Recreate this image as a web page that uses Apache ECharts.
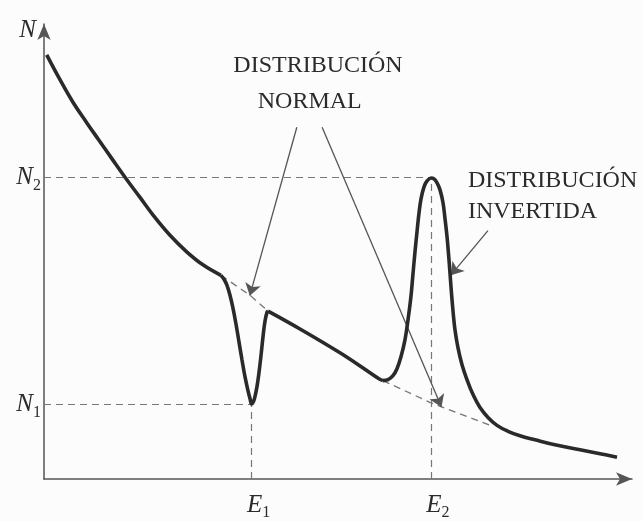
<!DOCTYPE html>
<html><head><meta charset="utf-8">
<script src="https://cdn.jsdelivr.net/npm/echarts@6/dist/echarts.min.js"></script>
<style>html,body{margin:0;padding:0;background:#fcfcfc}#c{width:642px;height:521px}</style>
</head><body><div id="c"></div>
<script>
// Measured population curve N(E), split at its kinks
const decay = [[0.46,93.23],[2.72,87.77],[4.98,82.69],[7.26,78.32],[9.23,74.67],[11.51,70.46],[13.78,66.31],[16.33,61.88],[18.59,57.93],[21.43,53.56],[24.27,49.93],[27.09,47.01],[30.10,44.76]];
const dip = [[30.10,44.76],[30.61,43.89],[31.12,42.58],[31.63,40.39],[32.14,37.55],[32.65,34.06],[33.16,30.13],[33.67,26.20],[34.18,22.49],[34.69,19.43],[35.03,17.69],[35.32,16.48],[35.63,17.03],[35.88,18.12],[36.22,20.31],[36.56,23.36],[36.90,27.07],[37.24,31.22],[37.59,34.72],[37.93,36.68],[38.10,36.90]];
const slope = [[38.10,36.90],[43.54,32.97],[50.34,27.73],[55.44,23.36],[56.97,22.05],[57.65,21.62]];
const peak = [[57.65,21.62],[58.50,21.83],[59.35,22.71],[60.03,24.24],[60.71,26.86],[61.39,30.57],[61.90,34.93],[62.41,40.17],[62.76,45.20],[63.10,50.00],[63.44,54.37],[63.78,58.52],[64.12,61.57],[64.63,64.19],[65.14,65.50],[65.82,66.16],[66.33,65.94],[66.84,65.07],[67.35,63.54],[67.86,60.70],[68.20,57.21],[68.54,53.28],[68.79,49.56],[69.05,45.20],[69.30,40.83],[69.56,36.90],[69.90,32.75],[70.41,28.82],[71.09,25.11],[71.94,21.83],[72.96,18.56],[74.15,15.72],[75.51,13.54],[77.04,11.79],[78.91,10.48],[80.95,9.50],[83.50,8.62],[86.90,7.53],[91.16,6.44],[94.56,5.57],[97.45,4.80]];
// Normal (undisturbed) distribution, dashed
const normalA = [[30.10,44.76],[35.03,40.39],[38.10,36.90]];
const normalB = [[57.65,21.62],[65.70,16.80],[75.90,11.80]];
// Marked levels
const E1 = 35.3, E2 = 65.8, N1 = 16.4, N2 = 66.3;
const xTickValues = [E1, E2];
const xTickMain = ['E', 'E'];
const xTickSub = ['1', '2'];
const yTickValues = [N1, N2];
const yTickMain = ['N', 'N'];
const yTickSub = ['1', '2'];

const SERIF = 'Liberation Serif';
const INK = '#2b2b2b';
const rich = {
  i: {fontFamily: SERIF, fontStyle: 'italic', fontSize: 25, color: INK, lineHeight: 32, verticalAlign: 'middle'},
  s: {fontFamily: SERIF, fontSize: 16, color: INK, lineHeight: 16, verticalAlign: 'bottom'}
};
const curveStyle = {color: '#2a2a2a', width: 3.6};
function curve(data) {
  return {type: 'line', data: data, smooth: 0.4, showSymbol: false, silent: true, lineStyle: curveStyle, z: 5};
}
function dashed(data) {
  return {type: 'line', data: data, smooth: false, showSymbol: false, silent: true,
    lineStyle: {color: '#777', width: 1.3, type: [7, 5]}, z: 3};
}
const guideStyle = {color: '#777', width: 1.2, type: [7, 5]};
const arrowStyle = {color: '#555', width: 1.3, type: 'solid'};
const textLabel = (txt, align) => ({
  show: true, formatter: txt, position: [0, 0], align: align, verticalAlign: 'middle',
  fontFamily: SERIF, fontSize: 24, color: INK
});

const chart = echarts.init(document.getElementById('c'), null, {renderer: 'canvas'});
chart.setOption({
  animation: false,
  backgroundColor: '#fcfcfc',
  grid: {left: 44, right: 10, top: 24, bottom: 39, containLabel: false},
  xAxis: {
    type: 'value', min: 0, max: 100,
    axisLine: {show: true, symbol: ['none', 'arrow'], symbolSize: [10, 16], lineStyle: {color: '#555', width: 1.5}},
    axisTick: {show: false}, splitLine: {show: false},
    axisLabel: {
      customValues: xTickValues, margin: 10, padding: [0, 0, 0, 14],
      formatter: (v) => { const k = xTickValues.indexOf(v); return k < 0 ? '' : '{i|' + xTickMain[k] + '}{s|' + xTickSub[k] + '}'; },
      rich: rich
    }
  },
  yAxis: {
    type: 'value', min: 0, max: 100,
    name: 'N', nameLocation: 'end', nameGap: -6,
    nameTextStyle: {fontFamily: SERIF, fontStyle: 'italic', fontSize: 25, color: INK, align: 'right', verticalAlign: 'middle', padding: [0, 8, 0, 0]},
    axisLine: {show: true, symbol: ['none', 'arrow'], symbolSize: [10, 16], lineStyle: {color: '#555', width: 1.5}},
    axisTick: {show: false}, splitLine: {show: false},
    axisLabel: {
      customValues: yTickValues, margin: 3,
      formatter: (v) => { const k = yTickValues.indexOf(v); return k < 0 ? '' : '{i|' + yTickMain[k] + '}{s|' + yTickSub[k] + '}'; },
      rich: rich
    }
  },
  series: [
    curve(decay), curve(dip), curve(slope), curve(peak),
    dashed(normalA), dashed(normalB),
    {
      type: 'line', data: [], silent: true,
      markLine: {
        silent: true, symbol: ['none', 'none'], label: {show: false}, lineStyle: guideStyle, animation: false,
        data: [
          [{coord: [0, N2]}, {coord: [E2, N2]}],
          [{coord: [0, N1]}, {coord: [E1, N1]}],
          [{coord: [E1, 0]}, {coord: [E1, N1]}],
          [{coord: [E2, 0]}, {coord: [E2, N2]}]
        ]
      }
    },
    {
      type: 'line', data: [], silent: true,
      markLine: {
        silent: true, symbol: ['none', 'arrow'], symbolSize: 12, label: {show: false}, lineStyle: arrowStyle, animation: false,
        data: [
          [{coord: [43.0, 77.3]}, {coord: [35.0, 40.3]}],
          [{coord: [47.3, 77.3]}, {coord: [67.6, 15.8]}],
          [{coord: [75.5, 54.6]}, {coord: [69.2, 44.8]}]
        ]
      },
      markPoint: {
        silent: true, symbol: 'circle', symbolSize: 0, animation: false,
        data: [
          {coord: [46.6, 90.8], label: textLabel('DISTRIBUCIÓN', 'center')},
          {coord: [45.2, 83.0], label: textLabel('NORMAL', 'center')},
          {coord: [72.1, 65.5], label: textLabel('DISTRIBUCIÓN', 'left')},
          {coord: [72.1, 58.7], label: textLabel('INVERTIDA', 'left')}
        ]
      }
    }
  ]
});
</script></body></html>
